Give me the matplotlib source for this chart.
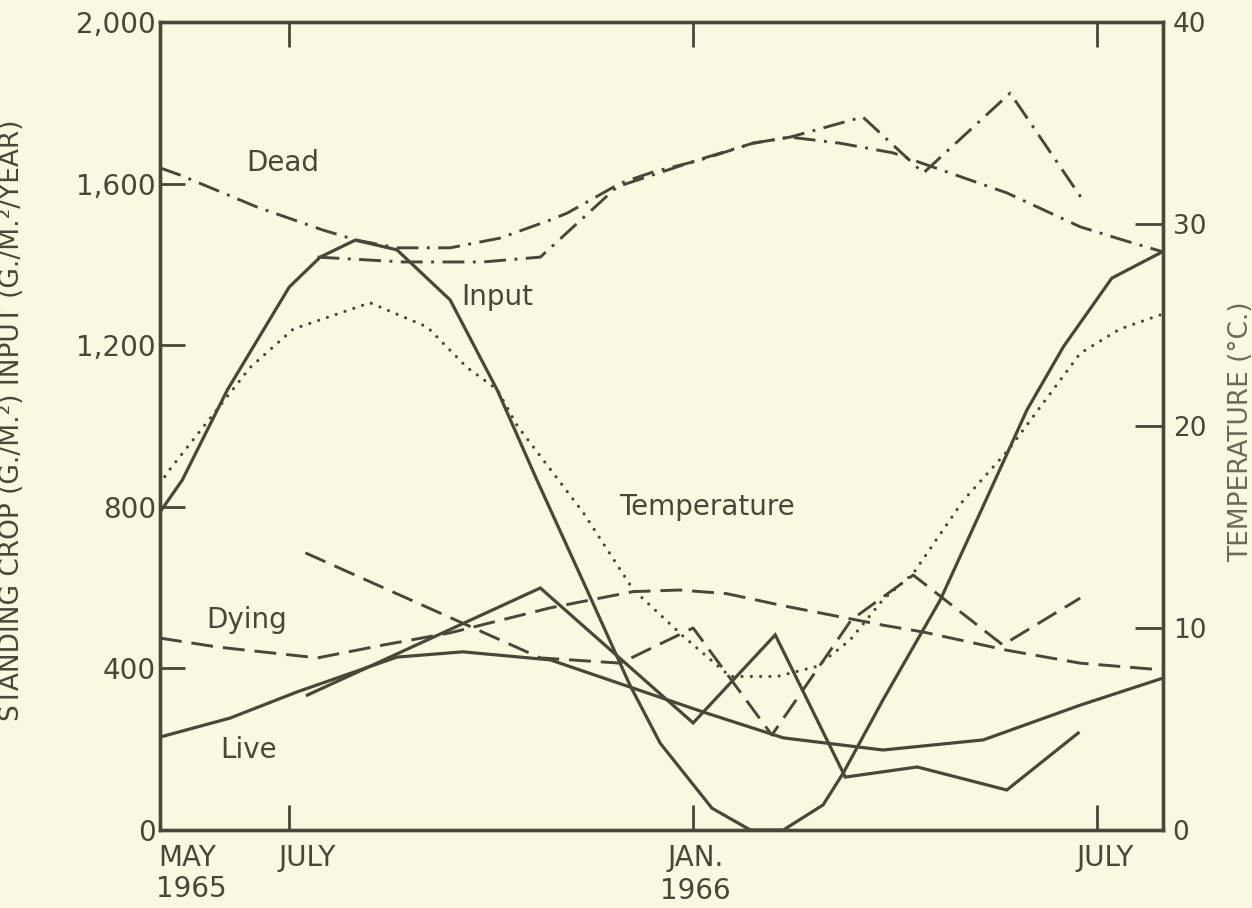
import numpy as np
import matplotlib.pyplot as plt

# months counted from 1 May 1965; standing crop / input in g/m2, temperature in deg C
input_m = [0.08, 0.41, 1.08, 2.0, 2.46, 2.98, 3.60, 4.39, 5.09, 5.68, 6.47, 7.06, 7.51, 8.28,
           8.85, 9.34, 9.93, 10.23, 10.82, 11.67, 12.37, 12.96, 13.50, 14.22, 14.97]
input_v = [787, 866, 1089, 1344, 1418, 1460, 1436, 1312, 1089, 866, 577, 359, 215, 54,
           0, 0, 62, 141, 322, 569, 824, 1040, 1196, 1366, 1431]

temp_m = [0.08, 0.19, 1.42, 2.06, 3.20, 4.05, 4.64, 5.09, 5.39, 6.37, 7.11, 7.85, 8.55, 9.25,
          9.84, 10.33, 10.82, 11.27, 12.01, 12.68, 13.75, 14.34, 14.94]
temp_c = [17.1, 17.7, 22.9, 24.8, 26.1, 24.9, 22.9, 21.8, 20.0, 15.7, 11.9, 9.6, 7.6, 7.6,
          8.1, 9.4, 11.4, 12.7, 16.3, 18.8, 23.6, 24.8, 25.5]

dead_m = [0.08, 0.38, 1.52, 2.50, 3.0, 3.6, 4.39, 5.13, 5.88, 6.13, 6.92, 7.41, 8.10, 8.89,
          9.44, 10.18, 10.97, 11.27, 12.66, 13.75, 14.39, 14.98]
dead_v = [1639, 1621, 1542, 1485, 1460, 1441, 1441, 1465, 1510, 1527, 1601, 1629, 1658, 1700,
          1715, 1700, 1676, 1658, 1577, 1493, 1460, 1431]

dead_obs_m = [2.42, 3.69, 4.88, 5.73, 6.87, 8.10, 8.89, 9.44, 10.52, 11.42, 12.71, 13.79]
dead_obs_v = [1418, 1406, 1406, 1418, 1592, 1660, 1700, 1715, 1765, 1626, 1824, 1559]

dying_m = [0.08, 0.93, 2.42, 3.40, 4.39, 5.88, 7.11, 7.8, 8.5, 9.34, 10.82, 11.42, 12.66,
           13.75, 14.98]
dying_v = [475, 453, 426, 458, 488, 550, 590, 594, 585, 555, 507, 490, 445, 413, 396]

dying_obs_m = [2.24, 5.73, 6.92, 8.0, 9.17, 10.35, 11.27, 12.6, 13.75]
dying_obs_v = [686, 426, 413, 500, 235, 520, 631, 458, 574]

live_m = [0.08, 1.12, 2.12, 3.60, 4.58, 5.88, 8.15, 9.34, 10.82, 12.31, 13.75, 14.98]
live_v = [230, 277, 342, 428, 441, 421, 292, 228, 198, 223, 309, 376]

live_obs_m = [2.27, 5.73, 8.0, 9.22, 10.26, 11.33, 12.66, 13.72]
live_obs_v = [334, 599, 265, 483, 131, 156, 99, 240]

left_ticks = [0, 400, 800, 1200, 1600, 2000]
left_labels = ['0', '400', '800', '1,200', '1,600', '2,000']
right_ticks = [0, 10, 20, 30, 40]
month_ticks = [2, 8, 14]

bg = '#faf8e1'
ink = '#4a4638'

fig = plt.figure(figsize=(12.52, 9.08), dpi=100, facecolor=bg)
ax = fig.add_axes([0.1278, 0.0859, 0.8011, 0.8899])
ax.set_facecolor(bg)
ax.set_xlim(0.08, 14.98)
ax.set_ylim(0, 2000)

solid = dict(color=ink, lw=2.3, solid_joinstyle='miter')
dashed = dict(color=ink, lw=2.1, dashes=(7.5, 3.4))
dashdot = dict(color=ink, lw=2.1, dashes=(7.5, 2.9, 1.0, 2.9))

ax.plot(input_m, input_v, **solid)
ax.plot(live_m, live_v, **solid)
ax.plot(live_obs_m, live_obs_v, **solid)
ax.plot(dead_m, dead_v, **dashdot)
ax.plot(dead_obs_m, dead_obs_v, **dashdot)
ax.plot(dying_m, dying_v, **dashed)
ax.plot(dying_obs_m, dying_obs_v, **dashed)

ax2 = ax.twinx()
ax2.set_ylim(0, 40)
ax2.plot(temp_m, temp_c, color=ink, lw=2.3, dashes=(0.01, 2.9), dash_capstyle='round')

for a in (ax, ax2):
    for s in a.spines.values():
        s.set_color(ink)
        s.set_linewidth(2.4)

ax.set_yticks(left_ticks)
ax.set_yticklabels(left_labels)
ax.tick_params(axis='y', direction='in', length=18, width=2, color=ink, labelcolor=ink,
               labelsize=20, pad=3)
ax.set_xticks(month_ticks)
ax.set_xticklabels([])
ax.tick_params(axis='x', direction='in', length=18, width=2, color=ink, top=True)

ax2.set_yticks(right_ticks)
ax2.tick_params(axis='y', direction='in', length=20, width=2, color=ink, labelcolor=ink,
                labelsize=19, pad=7)

# month labels under the axis
xt = ax.get_xaxis_transform()
tk = dict(transform=xt, color=ink, fontsize=20, va='center')
ax.text(0.05, -0.035, 'MAY', ha='left', **tk)
ax.text(0.02, -0.073, '1965', ha='left', **tk)
ax.text(2.27, -0.035, 'JULY', ha='center', **tk)
ax.text(8.03, -0.035, 'JAN.', ha='center', **tk)
ax.text(8.03, -0.075, '1966', ha='center', **tk)
ax.text(14.12, -0.035, 'JULY', ha='center', **tk)

ax.set_ylabel('STANDING CROP (G./M.²) INPUT (G./M.²/YEAR)', color=ink, fontsize=19)
ax.yaxis.set_label_coords(-0.135, 0.507)
ax2.set_ylabel('TEMPERATURE (°C.)', color='#6e6a58', fontsize=19, rotation=90)
ax2.yaxis.set_label_coords(1.065, 0.493)

lab = dict(color=ink, fontsize=20, ha='center', va='center')
ax.text(1.91, 1651, 'Dead', **lab)
ax.text(5.09, 1319, 'Input', **lab)
ax.text(8.21, 800, 'Temperature', **lab)
ax.text(1.36, 520, 'Dying', **lab)
ax.text(1.39, 198, 'Live', **lab)

fig.savefig('out.png', dpi=100, facecolor=bg)
